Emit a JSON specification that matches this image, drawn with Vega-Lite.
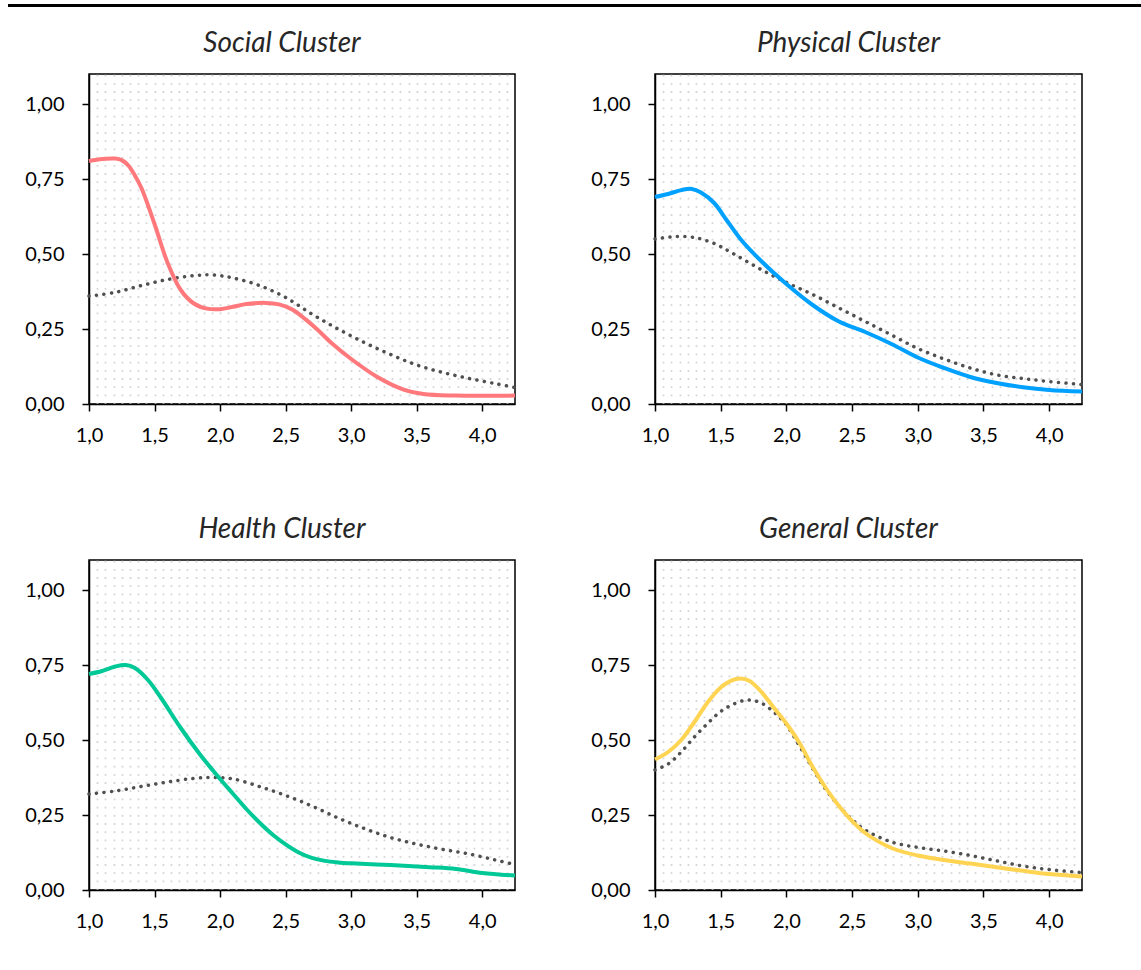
{
  "$schema": "https://vega.github.io/schema/vega-lite/v6.json",
  "padding": {"left": 8, "top": 4, "right": 0, "bottom": 5},
  "background": "white",
  "datasets": {
    "curves": [
      {"c":"Social","s":"cl","x":1.0,"y":0.81},{"c":"Social","s":"cl","x":1.1,"y":0.817},{"c":"Social","s":"cl","x":1.2,"y":0.818},{"c":"Social","s":"cl","x":1.25,"y":0.813},{"c":"Social","s":"cl","x":1.3,"y":0.795},{"c":"Social","s":"cl","x":1.35,"y":0.762},{"c":"Social","s":"cl","x":1.4,"y":0.72},{"c":"Social","s":"cl","x":1.5,"y":0.60},{"c":"Social","s":"cl","x":1.6,"y":0.47},{"c":"Social","s":"cl","x":1.7,"y":0.38},{"c":"Social","s":"cl","x":1.8,"y":0.335},{"c":"Social","s":"cl","x":1.9,"y":0.318},{"c":"Social","s":"cl","x":2.0,"y":0.316},{"c":"Social","s":"cl","x":2.1,"y":0.324},{"c":"Social","s":"cl","x":2.2,"y":0.333},{"c":"Social","s":"cl","x":2.35,"y":0.337},{"c":"Social","s":"cl","x":2.45,"y":0.332},{"c":"Social","s":"cl","x":2.55,"y":0.315},{"c":"Social","s":"cl","x":2.65,"y":0.283},{"c":"Social","s":"cl","x":2.75,"y":0.245},{"c":"Social","s":"cl","x":2.85,"y":0.203},{"c":"Social","s":"cl","x":3.0,"y":0.15},{"c":"Social","s":"cl","x":3.2,"y":0.09},{"c":"Social","s":"cl","x":3.4,"y":0.048},{"c":"Social","s":"cl","x":3.55,"y":0.033},{"c":"Social","s":"cl","x":3.8,"y":0.028},{"c":"Social","s":"cl","x":4.25,"y":0.028},
      {"c":"Social","s":"all","x":1.0,"y":0.36},{"c":"Social","s":"all","x":1.2,"y":0.372},{"c":"Social","s":"all","x":1.4,"y":0.395},{"c":"Social","s":"all","x":1.6,"y":0.415},{"c":"Social","s":"all","x":1.8,"y":0.428},{"c":"Social","s":"all","x":1.95,"y":0.43},{"c":"Social","s":"all","x":2.1,"y":0.42},{"c":"Social","s":"all","x":2.3,"y":0.395},{"c":"Social","s":"all","x":2.5,"y":0.355},{"c":"Social","s":"all","x":2.7,"y":0.30},{"c":"Social","s":"all","x":2.9,"y":0.25},{"c":"Social","s":"all","x":3.1,"y":0.205},{"c":"Social","s":"all","x":3.3,"y":0.165},{"c":"Social","s":"all","x":3.5,"y":0.13},{"c":"Social","s":"all","x":3.7,"y":0.105},{"c":"Social","s":"all","x":3.9,"y":0.085},{"c":"Social","s":"all","x":4.1,"y":0.068},{"c":"Social","s":"all","x":4.25,"y":0.055},
      {"c":"Physical","s":"cl","x":1.0,"y":0.69},{"c":"Physical","s":"cl","x":1.1,"y":0.70},{"c":"Physical","s":"cl","x":1.2,"y":0.713},{"c":"Physical","s":"cl","x":1.28,"y":0.717},{"c":"Physical","s":"cl","x":1.35,"y":0.705},{"c":"Physical","s":"cl","x":1.45,"y":0.67},{"c":"Physical","s":"cl","x":1.55,"y":0.61},{"c":"Physical","s":"cl","x":1.65,"y":0.55},{"c":"Physical","s":"cl","x":1.8,"y":0.48},{"c":"Physical","s":"cl","x":2.0,"y":0.40},{"c":"Physical","s":"cl","x":2.2,"y":0.33},{"c":"Physical","s":"cl","x":2.4,"y":0.275},{"c":"Physical","s":"cl","x":2.6,"y":0.24},{"c":"Physical","s":"cl","x":2.8,"y":0.20},{"c":"Physical","s":"cl","x":3.0,"y":0.155},{"c":"Physical","s":"cl","x":3.2,"y":0.12},{"c":"Physical","s":"cl","x":3.4,"y":0.09},{"c":"Physical","s":"cl","x":3.6,"y":0.07},{"c":"Physical","s":"cl","x":3.8,"y":0.056},{"c":"Physical","s":"cl","x":4.0,"y":0.047},{"c":"Physical","s":"cl","x":4.25,"y":0.042},
      {"c":"Physical","s":"all","x":1.0,"y":0.55},{"c":"Physical","s":"all","x":1.15,"y":0.558},{"c":"Physical","s":"all","x":1.3,"y":0.555},{"c":"Physical","s":"all","x":1.45,"y":0.535},{"c":"Physical","s":"all","x":1.6,"y":0.50},{"c":"Physical","s":"all","x":1.8,"y":0.45},{"c":"Physical","s":"all","x":2.0,"y":0.405},{"c":"Physical","s":"all","x":2.2,"y":0.365},{"c":"Physical","s":"all","x":2.4,"y":0.32},{"c":"Physical","s":"all","x":2.6,"y":0.275},{"c":"Physical","s":"all","x":2.8,"y":0.23},{"c":"Physical","s":"all","x":3.0,"y":0.185},{"c":"Physical","s":"all","x":3.2,"y":0.15},{"c":"Physical","s":"all","x":3.4,"y":0.12},{"c":"Physical","s":"all","x":3.6,"y":0.097},{"c":"Physical","s":"all","x":3.8,"y":0.085},{"c":"Physical","s":"all","x":4.0,"y":0.075},{"c":"Physical","s":"all","x":4.25,"y":0.065},
      {"c":"Health","s":"cl","x":1.0,"y":0.72},{"c":"Health","s":"cl","x":1.1,"y":0.73},{"c":"Health","s":"cl","x":1.2,"y":0.745},{"c":"Health","s":"cl","x":1.28,"y":0.75},{"c":"Health","s":"cl","x":1.35,"y":0.74},{"c":"Health","s":"cl","x":1.45,"y":0.70},{"c":"Health","s":"cl","x":1.55,"y":0.64},{"c":"Health","s":"cl","x":1.7,"y":0.54},{"c":"Health","s":"cl","x":1.85,"y":0.45},{"c":"Health","s":"cl","x":2.0,"y":0.37},{"c":"Health","s":"cl","x":2.1,"y":0.32},{"c":"Health","s":"cl","x":2.2,"y":0.27},{"c":"Health","s":"cl","x":2.3,"y":0.225},{"c":"Health","s":"cl","x":2.4,"y":0.185},{"c":"Health","s":"cl","x":2.5,"y":0.152},{"c":"Health","s":"cl","x":2.6,"y":0.125},{"c":"Health","s":"cl","x":2.7,"y":0.107},{"c":"Health","s":"cl","x":2.8,"y":0.097},{"c":"Health","s":"cl","x":2.9,"y":0.092},{"c":"Health","s":"cl","x":3.0,"y":0.089},{"c":"Health","s":"cl","x":3.3,"y":0.083},{"c":"Health","s":"cl","x":3.6,"y":0.076},{"c":"Health","s":"cl","x":3.8,"y":0.07},{"c":"Health","s":"cl","x":4.0,"y":0.057},{"c":"Health","s":"cl","x":4.25,"y":0.048},
      {"c":"Health","s":"all","x":1.0,"y":0.32},{"c":"Health","s":"all","x":1.2,"y":0.33},{"c":"Health","s":"all","x":1.4,"y":0.345},{"c":"Health","s":"all","x":1.6,"y":0.36},{"c":"Health","s":"all","x":1.8,"y":0.372},{"c":"Health","s":"all","x":1.95,"y":0.375},{"c":"Health","s":"all","x":2.1,"y":0.37},{"c":"Health","s":"all","x":2.3,"y":0.345},{"c":"Health","s":"all","x":2.5,"y":0.315},{"c":"Health","s":"all","x":2.7,"y":0.28},{"c":"Health","s":"all","x":2.9,"y":0.24},{"c":"Health","s":"all","x":3.1,"y":0.205},{"c":"Health","s":"all","x":3.3,"y":0.175},{"c":"Health","s":"all","x":3.5,"y":0.153},{"c":"Health","s":"all","x":3.7,"y":0.135},{"c":"Health","s":"all","x":3.9,"y":0.12},{"c":"Health","s":"all","x":4.1,"y":0.1},{"c":"Health","s":"all","x":4.25,"y":0.085},
      {"c":"General","s":"cl","x":1.0,"y":0.435},{"c":"General","s":"cl","x":1.1,"y":0.46},{"c":"General","s":"cl","x":1.2,"y":0.50},{"c":"General","s":"cl","x":1.3,"y":0.56},{"c":"General","s":"cl","x":1.4,"y":0.625},{"c":"General","s":"cl","x":1.5,"y":0.675},{"c":"General","s":"cl","x":1.58,"y":0.698},{"c":"General","s":"cl","x":1.65,"y":0.705},{"c":"General","s":"cl","x":1.72,"y":0.697},{"c":"General","s":"cl","x":1.8,"y":0.665},{"c":"General","s":"cl","x":1.9,"y":0.61},{"c":"General","s":"cl","x":2.0,"y":0.555},{"c":"General","s":"cl","x":2.1,"y":0.49},{"c":"General","s":"cl","x":2.2,"y":0.41},{"c":"General","s":"cl","x":2.3,"y":0.34},{"c":"General","s":"cl","x":2.4,"y":0.28},{"c":"General","s":"cl","x":2.5,"y":0.23},{"c":"General","s":"cl","x":2.6,"y":0.19},{"c":"General","s":"cl","x":2.8,"y":0.14},{"c":"General","s":"cl","x":3.0,"y":0.115},{"c":"General","s":"cl","x":3.2,"y":0.1},{"c":"General","s":"cl","x":3.4,"y":0.088},{"c":"General","s":"cl","x":3.6,"y":0.076},{"c":"General","s":"cl","x":3.8,"y":0.064},{"c":"General","s":"cl","x":4.0,"y":0.053},{"c":"General","s":"cl","x":4.25,"y":0.045},
      {"c":"General","s":"all","x":1.0,"y":0.40},{"c":"General","s":"all","x":1.1,"y":0.42},{"c":"General","s":"all","x":1.2,"y":0.46},{"c":"General","s":"all","x":1.3,"y":0.51},{"c":"General","s":"all","x":1.4,"y":0.555},{"c":"General","s":"all","x":1.5,"y":0.595},{"c":"General","s":"all","x":1.6,"y":0.62},{"c":"General","s":"all","x":1.7,"y":0.633},{"c":"General","s":"all","x":1.8,"y":0.625},{"c":"General","s":"all","x":1.9,"y":0.595},{"c":"General","s":"all","x":2.0,"y":0.55},{"c":"General","s":"all","x":2.1,"y":0.48},{"c":"General","s":"all","x":2.2,"y":0.405},{"c":"General","s":"all","x":2.3,"y":0.335},{"c":"General","s":"all","x":2.4,"y":0.28},{"c":"General","s":"all","x":2.5,"y":0.235},{"c":"General","s":"all","x":2.6,"y":0.2},{"c":"General","s":"all","x":2.8,"y":0.16},{"c":"General","s":"all","x":3.0,"y":0.142},{"c":"General","s":"all","x":3.2,"y":0.13},{"c":"General","s":"all","x":3.4,"y":0.115},{"c":"General","s":"all","x":3.6,"y":0.097},{"c":"General","s":"all","x":3.8,"y":0.08},{"c":"General","s":"all","x":4.0,"y":0.068},{"c":"General","s":"all","x":4.25,"y":0.058}
    ]
  },
  "spacing": 22,
  "vconcat": [
    {
      "data": {"values": []},
      "mark": {"type": "point"},
      "width": 1133,
      "height": 1,
      "view": {"stroke": "black", "strokeWidth": 2, "fill": null}
    },
    {
      "spacing": 0,
      "hconcat": [
        {
          "data": {"values": []},
          "mark": {"type": "point"},
          "width": 1,
          "height": 1,
          "view": {"stroke": null, "fill": null}
        },
        {
          "data": {"name": "curves"},
          "spacing": 69,
          "vconcat": [
            {
              "spacing": 52,
              "hconcat": [
                {
                  "title": {"text": "Social Cluster"},
                  "width": 426, "height": 330,
                  "transform": [{"filter": "datum.c == 'Social'"}],
                  "encoding": {
                    "y": {"field": "y", "type": "quantitative", "scale": {"domain": [0, 1.1], "nice": false}, "axis": {"values": [0, 0.25, 0.5, 0.75, 1], "format": ".2f"}}
                  },
                  "layer": [
                    {"transform": [{"filter": "datum.s == 'all'"}], "mark": {"type": "line", "interpolate": "catmull-rom", "color": "#505050", "strokeWidth": 3.5, "strokeDash": [0.1, 7.4], "strokeCap": "round"},
                     "encoding": {"x": {"field": "x", "type": "quantitative", "scale": {"domain": [1, 4.25], "nice": false, "zero": false},
                       "axis": {"orient": "top", "values": [1.0625,1.125,1.1875,1.25,1.3125,1.375,1.4375,1.5,1.5625,1.625,1.6875,1.75,1.8125,1.875,1.9375,2,2.0625,2.125,2.1875,2.25,2.3125,2.375,2.4375,2.5,2.5625,2.625,2.6875,2.75,2.8125,2.875,2.9375,3,3.0625,3.125,3.1875,3.25,3.3125,3.375,3.4375,3.5,3.5625,3.625,3.6875,3.75,3.8125,3.875,3.9375,4,4.0625,4.125,4.1875], "grid": true, "ticks": false, "labels": false, "domain": false, "minExtent": 0, "maxExtent": 0, "gridColor": "#d6d6d6", "gridWidth": 1.8, "gridDash": [1.8, 6.4]}}}},
                    {"transform": [{"filter": "datum.s == 'cl'"}], "mark": {"type": "line", "interpolate": "catmull-rom", "color": "#FF787C", "strokeWidth": 4},
                     "encoding": {"x": {"field": "x", "type": "quantitative", "scale": {"domain": [1, 4.25], "nice": false, "zero": false},
                       "axis": {"orient": "bottom", "values": [1, 1.5, 2, 2.5, 3, 3.5, 4], "format": ".1f", "grid": false, "labelPadding": 14, "ticks": true, "tickSize": 7, "tickColor": "black", "tickWidth": 1.5, "tickOpacity": 1, "domain": true}}}}
                  ],
                  "resolve": {"axis": {"x": "independent"}}
                },
                {
                  "title": {"text": "Physical Cluster"},
                  "width": 427, "height": 330,
                  "transform": [{"filter": "datum.c == 'Physical'"}],
                  "encoding": {
                    "y": {"field": "y", "type": "quantitative", "scale": {"domain": [0, 1.1], "nice": false}, "axis": {"values": [0, 0.25, 0.5, 0.75, 1], "format": ".2f"}}
                  },
                  "layer": [
                    {"transform": [{"filter": "datum.s == 'all'"}], "mark": {"type": "line", "interpolate": "catmull-rom", "color": "#505050", "strokeWidth": 3.5, "strokeDash": [0.1, 7.4], "strokeCap": "round"},
                     "encoding": {"x": {"field": "x", "type": "quantitative", "scale": {"domain": [1, 4.25], "nice": false, "zero": false},
                       "axis": {"orient": "top", "values": [1.0625,1.125,1.1875,1.25,1.3125,1.375,1.4375,1.5,1.5625,1.625,1.6875,1.75,1.8125,1.875,1.9375,2,2.0625,2.125,2.1875,2.25,2.3125,2.375,2.4375,2.5,2.5625,2.625,2.6875,2.75,2.8125,2.875,2.9375,3,3.0625,3.125,3.1875,3.25,3.3125,3.375,3.4375,3.5,3.5625,3.625,3.6875,3.75,3.8125,3.875,3.9375,4,4.0625,4.125,4.1875], "grid": true, "ticks": false, "labels": false, "domain": false, "minExtent": 0, "maxExtent": 0, "gridColor": "#d6d6d6", "gridWidth": 1.8, "gridDash": [1.8, 6.4]}}}},
                    {"transform": [{"filter": "datum.s == 'cl'"}], "mark": {"type": "line", "interpolate": "catmull-rom", "color": "#00A0FF", "strokeWidth": 4},
                     "encoding": {"x": {"field": "x", "type": "quantitative", "scale": {"domain": [1, 4.25], "nice": false, "zero": false},
                       "axis": {"orient": "bottom", "values": [1, 1.5, 2, 2.5, 3, 3.5, 4], "format": ".1f", "grid": false, "labelPadding": 14, "ticks": true, "tickSize": 7, "tickColor": "black", "tickWidth": 1.5, "tickOpacity": 1, "domain": true}}}}
                  ],
                  "resolve": {"axis": {"x": "independent"}}
                }
              ]
            },
            {
              "spacing": 52,
              "hconcat": [
                {
                  "title": {"text": "Health Cluster"},
                  "width": 426, "height": 330,
                  "transform": [{"filter": "datum.c == 'Health'"}],
                  "encoding": {
                    "y": {"field": "y", "type": "quantitative", "scale": {"domain": [0, 1.1], "nice": false}, "axis": {"values": [0, 0.25, 0.5, 0.75, 1], "format": ".2f"}}
                  },
                  "layer": [
                    {"transform": [{"filter": "datum.s == 'all'"}], "mark": {"type": "line", "interpolate": "catmull-rom", "color": "#505050", "strokeWidth": 3.5, "strokeDash": [0.1, 7.4], "strokeCap": "round"},
                     "encoding": {"x": {"field": "x", "type": "quantitative", "scale": {"domain": [1, 4.25], "nice": false, "zero": false},
                       "axis": {"orient": "top", "values": [1.0625,1.125,1.1875,1.25,1.3125,1.375,1.4375,1.5,1.5625,1.625,1.6875,1.75,1.8125,1.875,1.9375,2,2.0625,2.125,2.1875,2.25,2.3125,2.375,2.4375,2.5,2.5625,2.625,2.6875,2.75,2.8125,2.875,2.9375,3,3.0625,3.125,3.1875,3.25,3.3125,3.375,3.4375,3.5,3.5625,3.625,3.6875,3.75,3.8125,3.875,3.9375,4,4.0625,4.125,4.1875], "grid": true, "ticks": false, "labels": false, "domain": false, "minExtent": 0, "maxExtent": 0, "gridColor": "#d6d6d6", "gridWidth": 1.8, "gridDash": [1.8, 6.4]}}}},
                    {"transform": [{"filter": "datum.s == 'cl'"}], "mark": {"type": "line", "interpolate": "catmull-rom", "color": "#00C896", "strokeWidth": 4},
                     "encoding": {"x": {"field": "x", "type": "quantitative", "scale": {"domain": [1, 4.25], "nice": false, "zero": false},
                       "axis": {"orient": "bottom", "values": [1, 1.5, 2, 2.5, 3, 3.5, 4], "format": ".1f", "grid": false, "labelPadding": 14, "ticks": true, "tickSize": 7, "tickColor": "black", "tickWidth": 1.5, "tickOpacity": 1, "domain": true}}}}
                  ],
                  "resolve": {"axis": {"x": "independent"}}
                },
                {
                  "title": {"text": "General Cluster"},
                  "width": 427, "height": 330,
                  "transform": [{"filter": "datum.c == 'General'"}],
                  "encoding": {
                    "y": {"field": "y", "type": "quantitative", "scale": {"domain": [0, 1.1], "nice": false}, "axis": {"values": [0, 0.25, 0.5, 0.75, 1], "format": ".2f"}}
                  },
                  "layer": [
                    {"transform": [{"filter": "datum.s == 'all'"}], "mark": {"type": "line", "interpolate": "catmull-rom", "color": "#505050", "strokeWidth": 3.5, "strokeDash": [0.1, 7.4], "strokeCap": "round"},
                     "encoding": {"x": {"field": "x", "type": "quantitative", "scale": {"domain": [1, 4.25], "nice": false, "zero": false},
                       "axis": {"orient": "top", "values": [1.0625,1.125,1.1875,1.25,1.3125,1.375,1.4375,1.5,1.5625,1.625,1.6875,1.75,1.8125,1.875,1.9375,2,2.0625,2.125,2.1875,2.25,2.3125,2.375,2.4375,2.5,2.5625,2.625,2.6875,2.75,2.8125,2.875,2.9375,3,3.0625,3.125,3.1875,3.25,3.3125,3.375,3.4375,3.5,3.5625,3.625,3.6875,3.75,3.8125,3.875,3.9375,4,4.0625,4.125,4.1875], "grid": true, "ticks": false, "labels": false, "domain": false, "minExtent": 0, "maxExtent": 0, "gridColor": "#d6d6d6", "gridWidth": 1.8, "gridDash": [1.8, 6.4]}}}},
                    {"transform": [{"filter": "datum.s == 'cl'"}], "mark": {"type": "line", "interpolate": "catmull-rom", "color": "#FFD452", "strokeWidth": 4},
                     "encoding": {"x": {"field": "x", "type": "quantitative", "scale": {"domain": [1, 4.25], "nice": false, "zero": false},
                       "axis": {"orient": "bottom", "values": [1, 1.5, 2, 2.5, 3, 3.5, 4], "format": ".1f", "grid": false, "labelPadding": 14, "ticks": true, "tickSize": 7, "tickColor": "black", "tickWidth": 1.5, "tickOpacity": 1, "domain": true}}}}
                  ],
                  "resolve": {"axis": {"x": "independent"}}
                }
              ]
            }
          ]
        }
      ]
    }
  ],
  "config": {
    "locale": {"number": {"decimal": ",", "thousands": ".", "grouping": [3], "currency": ["", " €"]}},
    "view": {"stroke": "black", "strokeWidth": 1.5},
    "axis": {"title": null, "domainColor": "black", "domainWidth": 1.5, "tickColor": "black", "tickWidth": 1.5, "tickSize": 7, "labelFont": "Lato", "labelFontSize": 20, "labelColor": "black", "grid": false, "labelOverlap": false, "labelFlush": false},
    "axisY": {"minExtent": 78, "labelPadding": 18},
    "title": {"font": "Lato", "fontSize": 28, "fontStyle": "italic", "fontWeight": "normal", "color": "#262626", "offset": 16, "anchor": "middle", "frame": "group", "dx": -20}
  }
}
